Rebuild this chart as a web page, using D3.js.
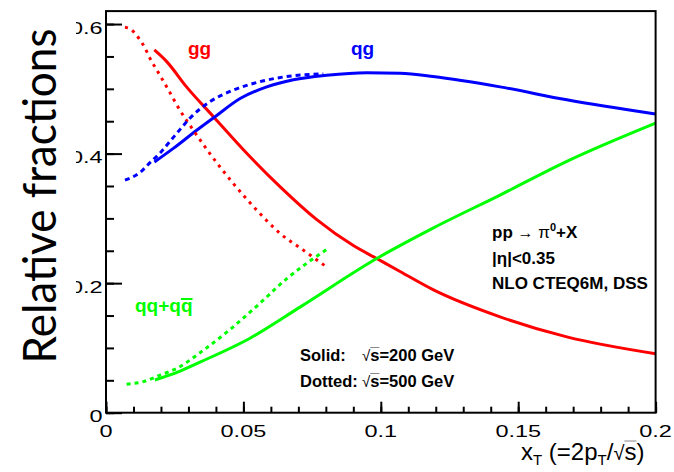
<!DOCTYPE html>
<html><head><meta charset="utf-8">
<script src="https://cdn.jsdelivr.net/npm/d3@7"></script>
<style>body{margin:0;background:#fff}svg{display:block}</style>
</head><body><svg id="c" width="674" height="472"></svg>
<script>
// ---- data ----
const xTickValues = [0, 0.05, 0.1, 0.15, 0.2];
const xTickLabels = ["0", "0.05", "0.1", "0.15", "0.2"];
const yTickValues = [0, 0.2, 0.4, 0.6];
const yTickLabels = ["0", "0.2", "0.4", "0.6"];

const gg200X = [0.0176,0.0221,0.0293,0.0391,0.050,0.0633,0.0767,0.090,0.0985,0.107,0.119,0.1434,0.1677,0.200];
const gg200Y = [0.560,0.542,0.503,0.457,0.406,0.349,0.298,0.258,0.238,0.218,0.190,0.148,0.117,0.091];
const gg500X = [0.0069,0.0093,0.0116,0.0142,0.0160,0.0185,0.0221,0.0269,0.0318,0.0378,0.0463,0.0548,0.0633,0.0718,0.0809];
const gg500Y = [0.595,0.591,0.580,0.563,0.547,0.529,0.503,0.467,0.436,0.400,0.354,0.313,0.277,0.251,0.223];
const qg200X = [0.0176,0.0245,0.033,0.0397,0.0488,0.0585,0.0682,0.0803,0.0949,0.107,0.119,0.1434,0.1677,0.200];
const qg200Y = [0.387,0.408,0.436,0.457,0.485,0.503,0.514,0.521,0.525,0.524,0.519,0.503,0.483,0.461];
const qg500X = [0.0069,0.0124,0.016,0.0197,0.0233,0.0269,0.0306,0.0378,0.0463,0.056,0.0658,0.0791];
const qg500Y = [0.359,0.371,0.386,0.401,0.419,0.437,0.455,0.480,0.498,0.511,0.519,0.523];
const qq200X = [0.0178,0.0263,0.0342,0.0524,0.0706,0.0985,0.119,0.1434,0.1677,0.200];
const qq200Y = [0.0505,0.063,0.078,0.115,0.163,0.238,0.285,0.336,0.388,0.447];
const qq500X = [0.0075,0.0136,0.0197,0.026,0.035,0.045,0.055,0.0658,0.0803];
const qq500Y = [0.044,0.048,0.058,0.069,0.095,0.128,0.165,0.207,0.252];

const seriesColors = {gg: "#ff0000", qg: "#0000ff", qq: "#00ff00"};

// ---- chart ----
const svg = d3.select("#c");
const L = 106, R = 655.6, T = 11.1, B = 412.7;
const x = d3.scaleLinear().domain([0, 0.2]).range([L, R]);
const y = d3.scaleLinear().domain([0, 0.62]).range([B, T]);

const series = [
  {X: gg200X, Y: gg200Y, c: seriesColors.gg, dash: null},
  {X: qg200X, Y: qg200Y, c: seriesColors.qg, dash: null},
  {X: qq200X, Y: qq200Y, c: seriesColors.qq, dash: null},
  {X: gg500X, Y: gg500Y, c: seriesColors.gg, dash: "3,5"},
  {X: qg500X, Y: qg500Y, c: seriesColors.qg, dash: "5,4"},
  {X: qq500X, Y: qq500Y, c: seriesColors.qq, dash: "4,4"}
];

const line = d3.line().x(d => x(d[0])).y(d => y(d[1])).curve(d3.curveMonotoneX);
svg.append("g").selectAll("path").data(series).join("path")
  .attr("d", s => line(d3.zip(s.X, s.Y)))
  .attr("fill", "none").attr("stroke", s => s.c).attr("stroke-width", 3)
  .attr("stroke-dasharray", s => s.dash);

// frame
svg.append("rect").attr("x", L).attr("y", T).attr("width", R - L).attr("height", B - T)
  .attr("fill", "none").attr("stroke", "#000").attr("stroke-width", 2);

// axes ticks
const xMinor = d3.range(0, 0.2001, 0.01);
const yMinor = d3.range(0, 0.6001, 0.05);
function styleAxis(g) { g.select(".domain").remove(); g.selectAll("line").attr("stroke", "#000").attr("stroke-width", 2); }
svg.append("g").attr("transform", `translate(0,${B})`)
  .call(d3.axisBottom(x).tickValues(xMinor).tickSize(-6).tickFormat("")).call(styleAxis);
svg.append("g").attr("transform", `translate(0,${B})`)
  .call(d3.axisBottom(x).tickValues(xTickValues).tickSize(-11).tickFormat("")).call(styleAxis);
svg.append("g").attr("transform", `translate(${L},0)`)
  .call(d3.axisLeft(y).tickValues(yMinor).tickSize(-8).tickFormat("")).call(styleAxis);
svg.append("g").attr("transform", `translate(${L},0)`)
  .call(d3.axisLeft(y).tickValues(yTickValues).tickSize(-16).tickFormat("")).call(styleAxis);

// tick labels (horizontally stretched like the reference)
const lblFont = "'Liberation Sans', Arial, sans-serif";
svg.append("g").selectAll("text").data(xTickValues).join("text")
  .attr("transform", d => `translate(${x(d)},437) scale(1.38,1)`)
  .attr("text-anchor", "middle").attr("font-family", lblFont).attr("font-size", 17)
  .text((d, i) => xTickLabels[i]);
svg.append("clipPath").attr("id", "ylc").append("rect").attr("x", 76).attr("y", 0).attr("width", 600).attr("height", 472);
svg.append("g").attr("clip-path", "url(#ylc)").selectAll("text").data(yTickValues).join("text")
  .attr("transform", d => `translate(102.5,${y(d) + 9.5}) scale(1.38,1)`)
  .attr("text-anchor", "end").attr("font-family", lblFont).attr("font-size", 17)
  .text((d, i) => yTickLabels[i]);

// y title
svg.append("text").attr("transform", "translate(56,196) rotate(-90)")
  .attr("text-anchor", "middle").attr("font-family", "Lato, 'Open Sans', sans-serif").attr("font-size", 46)
  .attr("textLength", 335).attr("lengthAdjust", "spacingAndGlyphs")
  .text("Relative fractions");

function overline(textSel, idx, color, w, dy) {
  const node = textSel.node();
  const e = node.getExtentOfChar(idx);
  svg.append("line").attr("x1", e.x).attr("x2", e.x + e.width)
    .attr("y1", e.y + (dy || 0)).attr("y2", e.y + (dy || 0))
    .attr("stroke", color).attr("stroke-width", w);
}

// x title
const xt = svg.append("text").attr("x", 521).attr("y", 460)
  .attr("font-family", lblFont).attr("font-size", 24).attr("fill", "#000");
xt.append("tspan").text("x");
xt.append("tspan").attr("font-size", 15).attr("dy", 5).text("T");
xt.append("tspan").attr("dy", -5).text(" (=2p");
xt.append("tspan").attr("font-size", 15).attr("dy", 5).text("T");
xt.append("tspan").attr("dy", -5).text("/");
xt.append("tspan").attr("font-size", 20).text("√");
xt.append("tspan").text("s)");
{
  const s = xt.text(); const i = s.lastIndexOf("s");
  overline(xt, i, "#888", 1, 3);
}

// curve labels
const bold = {"font-family": lblFont, "font-weight": "bold"};
function txt(xp, yp, size, color) {
  const t = svg.append("text").attr("x", xp).attr("y", yp).attr("font-size", size).attr("fill", color);
  Object.entries(bold).forEach(([k, v]) => t.attr(k, v));
  return t;
}
txt(188, 55, 19, seriesColors.gg).text("gg");
txt(351, 55, 19, seriesColors.qg).text("qg");
const qql = txt(135, 312, 19, seriesColors.qq).text("qq+qq");
overline(qql, 4, seriesColors.qq, 2, 4);

// annotation
const a1 = txt(492, 238, 17, "#000");
a1.append("tspan").text("pp ");
a1.append("tspan").attr("font-weight", "normal").attr("font-size", 16).text("→");
a1.append("tspan").attr("font-weight", "normal").text(" π");
a1.append("tspan").attr("font-size", 11).attr("dy", -7).text("0");
a1.append("tspan").attr("dy", 7).text("+X");
txt(492, 263.5, 17, "#000").text("|η|<0.35");
txt(492, 289, 17, "#000").text("NLO CTEQ6M, DSS");

txt(300, 360.5, 16.5, "#000").text("Solid:");
txt(300, 386.5, 16.5, "#000").text("Dotted:");
[["s=200 GeV", 360.5], ["s=500 GeV", 386.5]].forEach(([s, yy]) => {
  const t = txt(362, yy, 16.5, "#000");
  t.append("tspan").attr("font-weight", "normal").attr("font-size", 15).text("√");
  t.append("tspan").text(s);
  overline(t, 1, "#888", 1, 2);
});
</script></body></html>
